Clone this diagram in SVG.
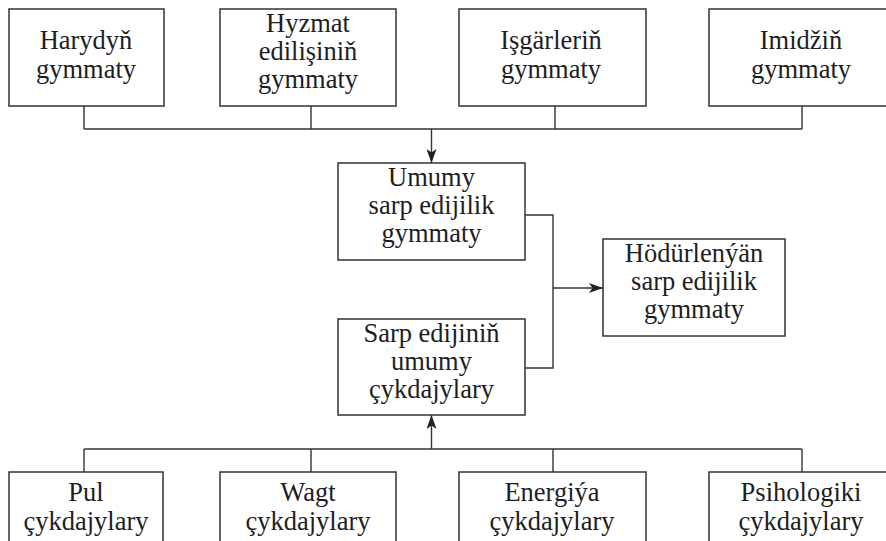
<svg xmlns="http://www.w3.org/2000/svg" width="886" height="541" viewBox="0 0 886 541">
  <style>
    .box { fill: #ffffff; stroke: #333333; stroke-width: 1.5; }
    .lbl { font-family: "Liberation Serif", "Times New Roman", serif; font-size: 26.5px; fill: #1e1e1e; text-anchor: middle; }
    .wire { fill: none; stroke: #333333; stroke-width: 1.4; }
  </style>
  <defs>
    <marker id="head" viewBox="0 0 14 10" refX="14" refY="5" markerWidth="14" markerHeight="10" markerUnits="userSpaceOnUse" orient="auto">
      <path d="M0,0 L14,5 L0,10 L3.5,5 Z" fill="#222222"/>
    </marker>
  </defs>
  <rect width="886" height="541" fill="#ffffff"/>

  <!-- connectors -->
  <g id="connectors">
    <!-- top row collector -->
    <path class="wire" d="M84,106 V129 M311,106 V129 M555,106 V129 M802,106 V129 M84,129 H802"/>
    <path class="wire" d="M431.5,129 V163" marker-end="url(#head)"/>
    <!-- bottom row collector -->
    <path class="wire" d="M84,472 V449 M311,472 V449 M553,472 V449 M802,472 V449 M84,449 H802"/>
    <path class="wire" d="M431.5,449 V415" marker-end="url(#head)"/>
    <!-- merge into offered value -->
    <path class="wire" d="M525,215 H553 V368 H525"/>
    <path class="wire" d="M553,288 H603" marker-end="url(#head)"/>
  </g>

  <!-- top row -->
  <g id="harydyn">
    <rect class="box" x="9" y="9" width="155" height="97"/>
    <text class="lbl" x="86" y="49">Harydyň</text>
    <text class="lbl" x="86" y="78">gymmaty</text>
  </g>
  <g id="hyzmat">
    <rect class="box" x="220" y="9" width="176" height="97"/>
    <text class="lbl" x="308" y="32">Hyzmat</text>
    <text class="lbl" x="308" y="60">edilişiniň</text>
    <text class="lbl" x="308" y="88">gymmaty</text>
  </g>
  <g id="isgarlerin">
    <rect class="box" x="459" y="9" width="187" height="97"/>
    <text class="lbl" x="551" y="49">Işgärleriň</text>
    <text class="lbl" x="551" y="78">gymmaty</text>
  </g>
  <g id="imidzin">
    <rect class="box" x="709" y="9" width="190" height="97"/>
    <text class="lbl" x="801" y="49">Imidžiň</text>
    <text class="lbl" x="801" y="78">gymmaty</text>
  </g>

  <!-- middle -->
  <g id="umumy">
    <rect class="box" x="338" y="163" width="187" height="97"/>
    <text class="lbl" x="431.5" y="186">Umumy</text>
    <text class="lbl" x="431.5" y="214">sarp edijilik</text>
    <text class="lbl" x="431.5" y="242">gymmaty</text>
  </g>
  <g id="sarp-edijinin">
    <rect class="box" x="338" y="319" width="187" height="96"/>
    <text class="lbl" x="431.5" y="342">Sarp edijiniň</text>
    <text class="lbl" x="431.5" y="370">umumy</text>
    <text class="lbl" x="431.5" y="398">çykdajylary</text>
  </g>
  <g id="hodurlenyan">
    <rect class="box" x="603" y="239" width="182" height="97"/>
    <text class="lbl" x="694" y="262">Hödürlenýän</text>
    <text class="lbl" x="694" y="290">sarp edijilik</text>
    <text class="lbl" x="694" y="318">gymmaty</text>
  </g>

  <!-- bottom row -->
  <g id="pul">
    <rect class="box" x="9" y="472" width="154" height="90"/>
    <text class="lbl" x="86" y="501">Pul</text>
    <text class="lbl" x="86" y="530">çykdajylary</text>
  </g>
  <g id="wagt">
    <rect class="box" x="220" y="472" width="176" height="90"/>
    <text class="lbl" x="308" y="501">Wagt</text>
    <text class="lbl" x="308" y="530">çykdajylary</text>
  </g>
  <g id="energiya">
    <rect class="box" x="459" y="472" width="187" height="90"/>
    <text class="lbl" x="552" y="501">Energiýa</text>
    <text class="lbl" x="552" y="530">çykdajylary</text>
  </g>
  <g id="psihologiki">
    <rect class="box" x="709" y="472" width="190" height="90"/>
    <text class="lbl" x="801" y="501">Psihologiki</text>
    <text class="lbl" x="801" y="530">çykdajylary</text>
  </g>
</svg>
